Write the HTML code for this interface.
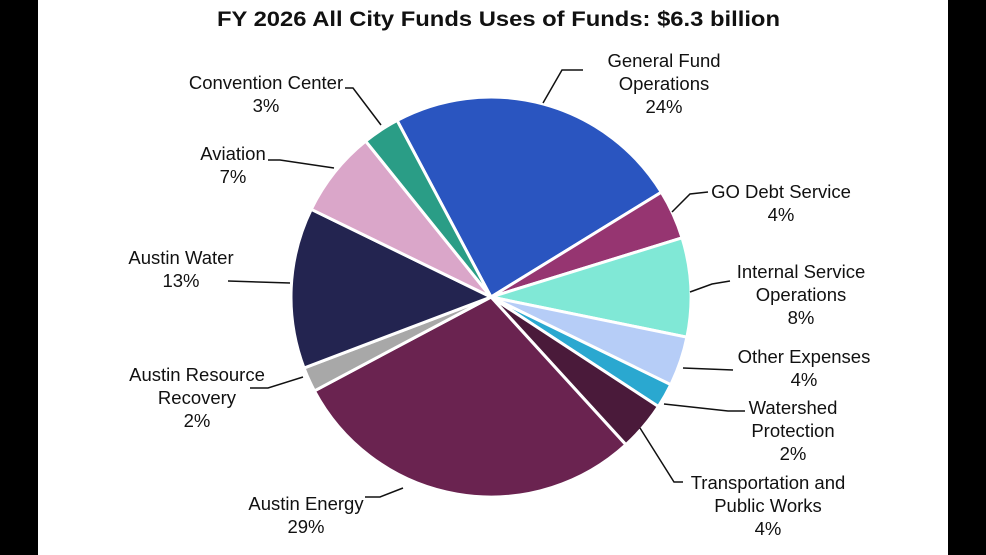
<!DOCTYPE html>
<html><head><meta charset="utf-8"><style>
body{margin:0;width:986px;height:555px;background:#fff;overflow:hidden;font-family:"Liberation Sans",sans-serif}
svg{display:block}
</style></head><body>
<svg id="chart" width="986" height="555" viewBox="0 0 986 555">
<rect x="0" y="0" width="38" height="555" fill="#000"/>
<rect x="948" y="0" width="38" height="555" fill="#000"/>
<text x="217" y="26" font-size="21" font-weight="bold" fill="#111" textLength="563" lengthAdjust="spacingAndGlyphs">FY 2026 All City Funds Uses of Funds: $6.3 billion</text>
<g id="slices"></g><g id="labels"></g>
</svg>
<script>
const categories=["General Fund Operations","GO Debt Service","Internal Service Operations","Other Expenses","Watershed Protection","Transportation and Public Works","Austin Energy","Austin Resource Recovery","Austin Water","Aviation","Convention Center"];
const values=[24,4,8,4,2,4,29,2,13,7,3];
const pctLabels=["24%","4%","8%","4%","2%","4%","29%","2%","13%","7%","3%"];
const colors=["#2a55c0","#963571","#80e8d6","#b6cdf7","#2aa8d0","#4a1a3a","#6a2350","#a8a8a8","#232450","#daa6c9","#2a9d86"];
const labelLines=[["General Fund","Operations","24%"],["GO Debt Service","4%"],["Internal Service","Operations","8%"],["Other Expenses","4%"],["Watershed","Protection","2%"],["Transportation and","Public Works","4%"],["Austin Energy","29%"],["Austin Resource","Recovery","2%"],["Austin Water","13%"],["Aviation","7%"],["Convention Center","3%"]];
const labelPos=[[664,67],[781,198],[801,278],[804,363],[793,414],[768,489],[306,510],[197,381],[181,264],[233,160],[266,89]];
const leaders=[[[583,70],[562,70],[543,103]],[[708,192],[690,194],[672,212]],[[730,281],[712,284],[690,292]],[[733,370],[683,368]],[[745,411],[728,411],[664,404]],[[683,482],[674,482],[640,428]],[[365,497],[380,497],[403,488]],[[250,388],[268,388],[303,377]],[[228,281],[290,283]],[[268,160],[280,160],[334,168]],[[345,88],[353,88],[381,125]]];
const cx=491,cy=297,r=200,start=-28;
const NS="http://www.w3.org/2000/svg";
const total=values.reduce((a,b)=>a+b,0);
const sg=document.getElementById('slices'),lg=document.getElementById('labels');
function pt(a){const t=(a-90)*Math.PI/180;return [cx+r*Math.cos(t),cy+r*Math.sin(t)];}
let a=start;
values.forEach((v,i)=>{
 const span=v/total*360,b=a+span;const p1=pt(a),p2=pt(b);
 const p=document.createElementNS(NS,'path');
 p.setAttribute('d',`M${cx},${cy}L${p1[0]},${p1[1]}A${r},${r} 0 ${span>180?1:0} 1 ${p2[0]},${p2[1]}Z`);
 p.setAttribute('fill',colors[i]);p.setAttribute('stroke','#fff');p.setAttribute('stroke-width','3');
 
 
 sg.appendChild(p);a=b;
 const l=document.createElementNS(NS,'polyline');
 l.setAttribute('points',leaders[i].map(q=>q.join(',')).join(' '));
 l.setAttribute('fill','none');l.setAttribute('stroke','#111');l.setAttribute('stroke-width','1.5');
 
 
 lg.appendChild(l);
 const t=document.createElementNS(NS,'text');
 t.setAttribute('text-anchor','middle');t.setAttribute('font-size','18.5');t.setAttribute('fill','#111');
 
 
 const lines=labelLines[i].slice(0,-1).concat([pctLabels[i]]);
 lines.forEach((s,j)=>{const ts=document.createElementNS(NS,'tspan');ts.setAttribute('x',labelPos[i][0]);ts.setAttribute('y',labelPos[i][1]+j*23);ts.textContent=s;t.appendChild(ts);});
 lg.appendChild(t);
});
</script>
</body></html>
